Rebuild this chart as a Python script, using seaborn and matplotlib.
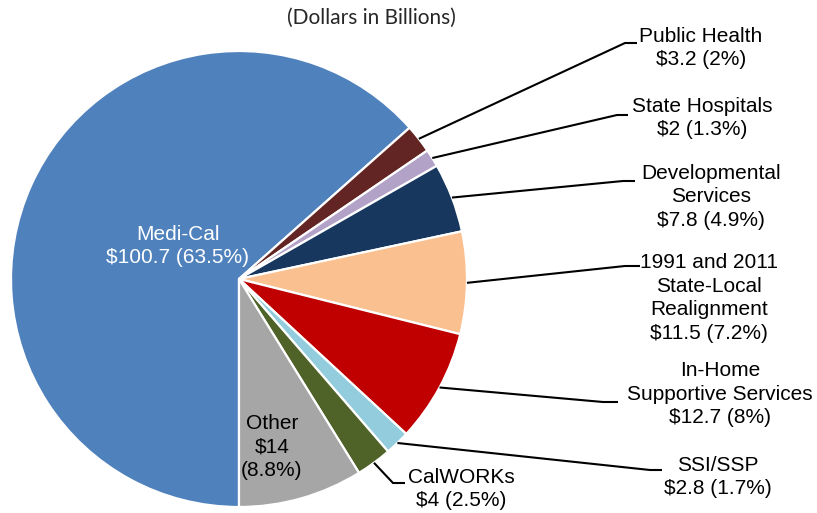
import matplotlib
matplotlib.use("Agg")
import matplotlib.pyplot as plt
import seaborn as sns
import numpy as np

# ---- data ----
categories = ["Medi-Cal", "Public Health", "State Hospitals", "Developmental\nServices",
              "1991 and 2011\nState-Local\nRealignment", "In-Home\nSupportive Services",
              "SSI/SSP", "CalWORKs", "Other"]
values = [100.7, 3.2, 2, 7.8, 11.5, 12.7, 2.8, 4, 14]
pct_labels = ["63.5%", "2%", "1.3%", "4.9%", "7.2%", "8%", "1.7%", "2.5%", "8.8%"]
value_labels = ["$100.7", "$3.2", "$2", "$7.8", "$11.5", "$12.7", "$2.8", "$4", "$14"]
colors = ["#4F81BD", "#632523", "#B3A2C7", "#17375E", "#FAC090",
          "#C00000", "#93CDDD", "#4F6228", "#A6A6A6"]
title = "(Dollars in Billions)"

sns.set_theme(style="white")
plt.rcParams["font.family"] = ["Liberation Sans", "DejaVu Sans"]

W, H = 817, 513
fig = plt.figure(figsize=(W / 100, H / 100), dpi=100)
ax = fig.add_axes([0, 0, 1, 1])
ax.set_xlim(0, W)
ax.set_ylim(0, H)
ax.axis("off")

cx, cy, r = 239, H - 279, 228
wedges, _ = ax.pie(values, colors=colors, startangle=270, counterclock=False,
                   center=(cx, cy), radius=r, frame=False,
                   wedgeprops=dict(edgecolor="white", linewidth=1.6))
ax.set_xlim(0, W)
ax.set_ylim(0, H)
ax.set_aspect("auto")

# label layout (image pixel coords): text center, elbow point, line end
layout = {
    0: dict(text=(178, 246), inside=True),
    1: dict(text=(701, 48), elbow=(625, 43), end=(637, 43)),
    2: dict(text=(702, 118), elbow=(617, 115), end=(628, 115)),
    3: dict(text=(711, 197), elbow=(623, 181), end=(635, 181)),
    4: dict(text=(709, 298), elbow=(625, 266), end=(640, 266)),
    5: dict(text=(720, 394), elbow=(603, 402), end=(618, 402)),
    6: dict(text=(718, 477), elbow=(650, 470), end=(662, 470)),
    7: dict(text=(461, 489), elbow=(393, 483), end=(405, 483)),
    8: dict(text=(272, 447), inside=True),
}

for i, w in enumerate(wedges):
    lay = layout[i]
    name = categories[i]
    if i == 8:
        txt = f"{name}\n{value_labels[i]}\n({pct_labels[i]})"
    else:
        txt = f"{name}\n{value_labels[i]} ({pct_labels[i]})"
    tx, ty = lay["text"]
    color = "white" if i == 0 else "black"
    ax.text(tx, H - ty, txt, ha="center", va="center", fontsize=15,
            color=color, linespacing=1.3)
    if not lay.get("inside"):
        mid = np.deg2rad((w.theta1 + w.theta2) / 2)
        sx, sy = cx + r * np.cos(mid), cy + r * np.sin(mid)
        ex, ey = lay["elbow"]
        fx, fy = lay["end"]
        ax.plot([sx, ex, fx], [sy, H - ey, H - fy], color="black", lw=1.5,
                solid_capstyle="butt", solid_joinstyle="miter")

ax.text(371, H - 18, title, ha="center", va="center", fontsize=15,
        family=["Lato", "DejaVu Sans"])

fig.savefig("out.png", dpi=100)
